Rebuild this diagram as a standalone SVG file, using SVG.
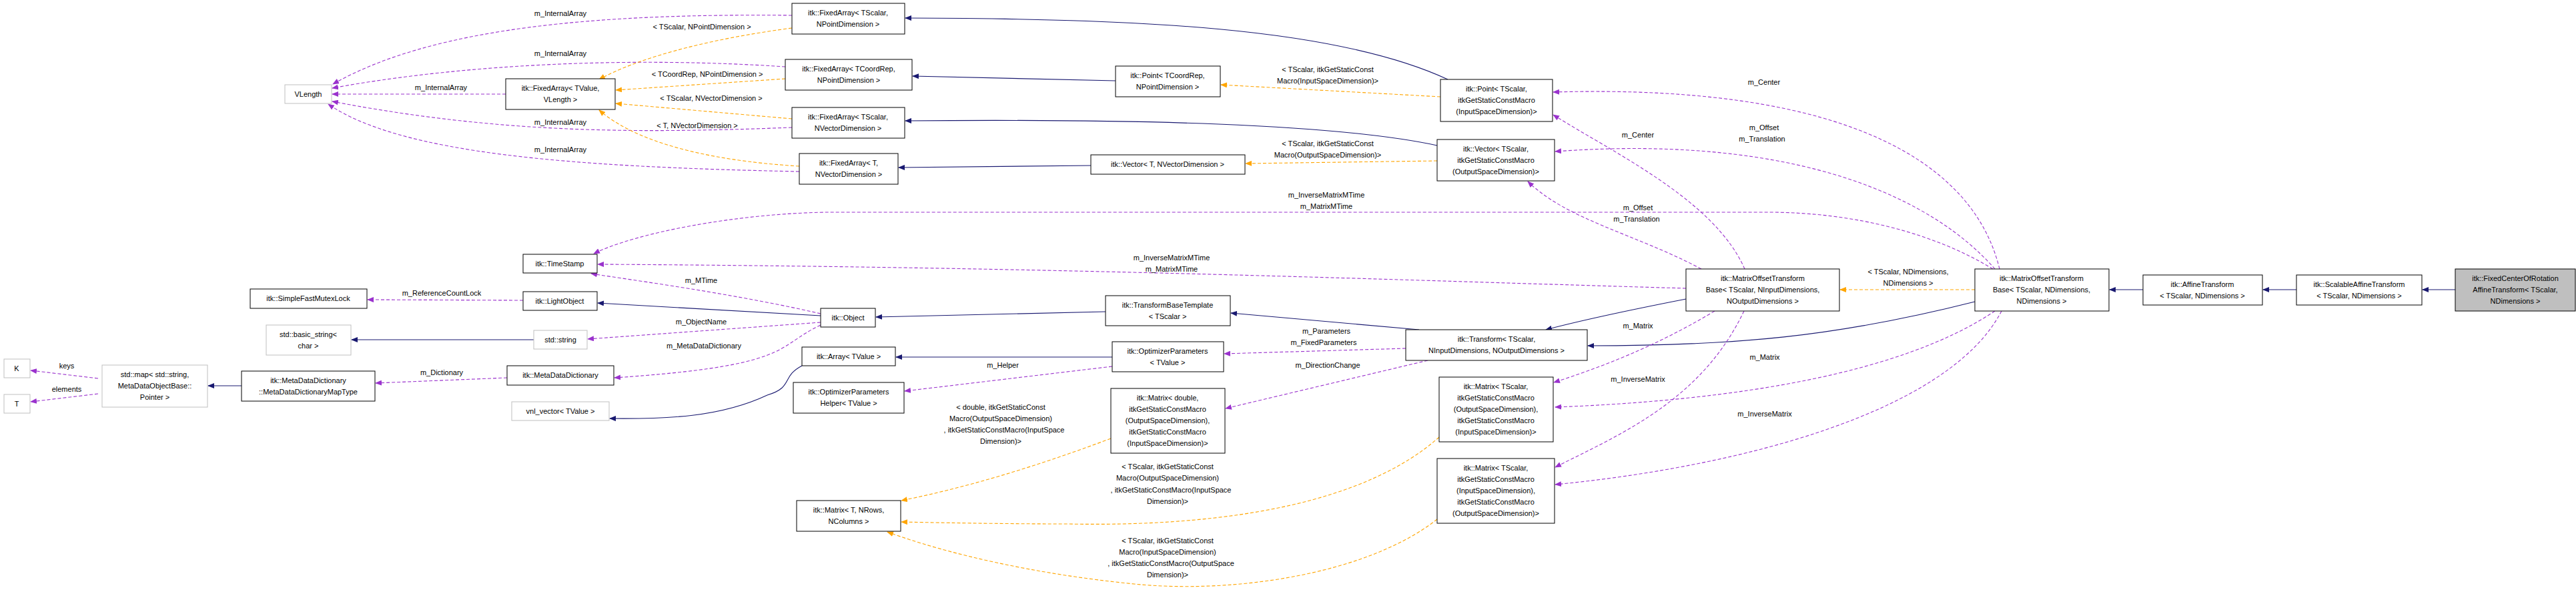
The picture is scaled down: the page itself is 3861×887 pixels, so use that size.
<svg xmlns="http://www.w3.org/2000/svg" width="3861" height="887" viewBox="0 0 3861 887">
<style>
text{font-family:"Liberation Sans",Arial,sans-serif;font-size:11px;fill:#000;text-anchor:middle}
.n rect{fill:#fff;stroke:#000;stroke-width:1}
.g rect{fill:#fff;stroke:#bfbfbf;stroke-width:1}
.c path{fill:none;stroke-width:1.1}
.p{stroke:#9a32cd;stroke-dasharray:5,3}
.o{stroke:#ffa500;stroke-dasharray:5,3}
.b{stroke:#191970}
</style>
<defs>
<marker id="mp" markerWidth="10" markerHeight="8" refX="9" refY="4" orient="auto" markerUnits="userSpaceOnUse"><path d="M0,0L10,4L0,8z" fill="#9a32cd"/></marker>
<marker id="mo" markerWidth="10" markerHeight="8" refX="9" refY="4" orient="auto" markerUnits="userSpaceOnUse"><path d="M0,0L10,4L0,8z" fill="#ffa500"/></marker>
<marker id="mb" markerWidth="10" markerHeight="8" refX="9" refY="4" orient="auto" markerUnits="userSpaceOnUse"><path d="M0,0L10,4L0,8z" fill="#191970"/></marker>
</defs>
<g id="connectors" class="c">
<path class="p" marker-end="url(#mp)" d="M1187,23 C900,20 650,40 499,126"/>
<path class="p" marker-end="url(#mp)" d="M1177,100 C950,85 700,95 498,132"/>
<path class="p" marker-end="url(#mp)" d="M758,141 L498,141"/>
<path class="p" marker-end="url(#mp)" d="M1187,191 C950,200 750,200 498,152"/>
<path class="p" marker-end="url(#mp)" d="M1198,257 C850,250 600,230 492,156"/>
<path class="o" marker-end="url(#mo)" d="M1187,42 C1050,60 950,90 898,119"/>
<path class="o" marker-end="url(#mo)" d="M1177,118 L923,135"/>
<path class="o" marker-end="url(#mo)" d="M1187,178 L923,155"/>
<path class="o" marker-end="url(#mo)" d="M1198,249 C1050,240 950,210 898,165"/>
<path class="b" marker-end="url(#mb)" d="M2170,119 C2000,40 1700,28 1357,27"/>
<path class="b" marker-end="url(#mb)" d="M1672,121 L1368,114"/>
<path class="b" marker-end="url(#mb)" d="M2154,218 C2000,185 1700,178 1357,181"/>
<path class="b" marker-end="url(#mb)" d="M1635,248 L1347,251"/>
<path class="o" marker-end="url(#mo)" d="M2159,145 L1830,127"/>
<path class="o" marker-end="url(#mo)" d="M2154,241 L1867,245"/>
<path class="p" marker-end="url(#mp)" d="M2615,403 C2570,300 2420,230 2328,172"/>
<path class="p" marker-end="url(#mp)" d="M2550,403 C2450,350 2350,330 2290,272"/>
<path class="p" marker-end="url(#mp)" d="M2997,403 C2960,250 2780,125 2328,138"/>
<path class="p" marker-end="url(#mp)" d="M2990,403 C2900,300 2700,200 2331,227"/>
<path class="p" marker-end="url(#mp)" d="M2987,403 C2900,350 2780,318 2650,318 L1240,318 C1100,320 950,350 890,380"/>
<path class="p" marker-end="url(#mp)" d="M2527,432 C2100,420 1600,400 896,396"/>
<path class="p" marker-end="url(#mp)" d="M1230,470 C1100,440 950,420 886,410"/>
<path class="p" marker-end="url(#mp)" d="M784,450 L551,449"/>
<path class="p" marker-end="url(#mp)" d="M1230,483 L881,508"/>
<path class="p" marker-end="url(#mp)" d="M1230,487 C1160,520 1190,548 921,566"/>
<path class="p" marker-end="url(#mp)" d="M760,566 L563,574"/>
<path class="p" marker-end="url(#mp)" d="M147,567 L46,555"/>
<path class="p" marker-end="url(#mp)" d="M147,590 L46,602"/>
<path class="b" marker-end="url(#mb)" d="M362,578 L312,578"/>
<path class="b" marker-end="url(#mb)" d="M800,509 L527,509"/>
<path class="b" marker-end="url(#mb)" d="M1230,473 L896,454"/>
<path class="b" marker-end="url(#mb)" d="M1202,548 C1170,565 1190,580 1150,592 C1080,625 1000,628 914,627"/>
<path class="b" marker-end="url(#mb)" d="M1667,535 L1343,535"/>
<path class="b" marker-end="url(#mb)" d="M1657,467 L1313,475"/>
<path class="b" marker-end="url(#mb)" d="M2127,494 L1845,469"/>
<path class="b" marker-end="url(#mb)" d="M2527,448 C2440,465 2370,480 2317,494"/>
<path class="b" marker-end="url(#mb)" d="M2960,452 C2750,505 2600,518 2380,518"/>
<path class="b" marker-end="url(#mb)" d="M3212,434 L3162,434"/>
<path class="b" marker-end="url(#mb)" d="M3442,434 L3392,434"/>
<path class="b" marker-end="url(#mb)" d="M3680,434 L3631,434"/>
<path class="p" marker-end="url(#mp)" d="M1667,549 L1356,586"/>
<path class="p" marker-end="url(#mp)" d="M2107,522 L1835,530"/>
<path class="p" marker-end="url(#mp)" d="M2140,540 L1837,612"/>
<path class="p" marker-end="url(#mp)" d="M2570,466 C2480,520 2400,550 2329,573"/>
<path class="p" marker-end="url(#mp)" d="M2614,466 C2550,600 2430,650 2331,700"/>
<path class="p" marker-end="url(#mp)" d="M2990,466 C2850,560 2600,600 2331,610"/>
<path class="p" marker-end="url(#mp)" d="M3000,466 C2920,620 2600,700 2331,726"/>
<path class="o" marker-end="url(#mo)" d="M2960,434 L2758,434"/>
<path class="o" marker-end="url(#mo)" d="M1665,657 C1550,700 1450,730 1351,750"/>
<path class="o" marker-end="url(#mo)" d="M2157,655 C2050,750 1850,790 1600,785 C1500,785 1400,783 1351,782"/>
<path class="o" marker-end="url(#mo)" d="M2154,778 C2050,860 1850,890 1700,875 C1550,860 1420,830 1330,797"/>
</g>
<g id="labels">
<text x="840" y="24">m_InternalArray</text>
<text x="1052" y="44">&lt; TScalar, NPointDimension &gt;</text>
<text x="840" y="84">m_InternalArray</text>
<text x="1060" y="115">&lt; TCoordRep, NPointDimension &gt;</text>
<text x="661" y="135">m_InternalArray</text>
<text x="1066" y="151">&lt; TScalar, NVectorDimension &gt;</text>
<text x="840" y="187">m_InternalArray</text>
<text x="1045" y="192">&lt; T, NVectorDimension &gt;</text>
<text x="840" y="228">m_InternalArray</text>
<text x="1990" y="108">&lt; TScalar, itkGetStaticConst</text>
<text x="1990" y="125">Macro(InputSpaceDimension)&gt;</text>
<text x="1990" y="219">&lt; TScalar, itkGetStaticConst</text>
<text x="1990" y="236">Macro(OutputSpaceDimension)&gt;</text>
<text x="2644" y="127">m_Center</text>
<text x="2644" y="195">m_Offset</text>
<text x="2641" y="212">m_Translation</text>
<text x="2455" y="206">m_Center</text>
<text x="2455" y="315">m_Offset</text>
<text x="2453" y="332">m_Translation</text>
<text x="1988" y="296">m_InverseMatrixMTime</text>
<text x="1988" y="313">m_MatrixMTime</text>
<text x="1756" y="390">m_InverseMatrixMTime</text>
<text x="1756" y="407">m_MatrixMTime</text>
<text x="2860" y="411">&lt; TScalar, NDimensions,</text>
<text x="2860" y="428">NDimensions &gt;</text>
<text x="1051" y="424">m_MTime</text>
<text x="662" y="443">m_ReferenceCountLock</text>
<text x="1051" y="486">m_ObjectName</text>
<text x="1055" y="522">m_MetaDataDictionary</text>
<text x="662" y="562">m_Dictionary</text>
<text x="100" y="552">keys</text>
<text x="100" y="587">elements</text>
<text x="1988" y="500">m_Parameters</text>
<text x="1984" y="517">m_FixedParameters</text>
<text x="1990" y="551">m_DirectionChange</text>
<text x="1503" y="551">m_Helper</text>
<text x="2455" y="492">m_Matrix</text>
<text x="2455" y="572">m_InverseMatrix</text>
<text x="2645" y="539">m_Matrix</text>
<text x="2645" y="624">m_InverseMatrix</text>
<text x="1500" y="614">&lt; double, itkGetStaticConst</text>
<text x="1500" y="631">Macro(OutputSpaceDimension)</text>
<text x="1505" y="648">, itkGetStaticConstMacro(InputSpace</text>
<text x="1500" y="665">Dimension)&gt;</text>
<text x="1750" y="703">&lt; TScalar, itkGetStaticConst</text>
<text x="1750" y="720">Macro(OutputSpaceDimension)</text>
<text x="1755" y="738">, itkGetStaticConstMacro(InputSpace</text>
<text x="1750" y="755">Dimension)&gt;</text>
<text x="1750" y="814">&lt; TScalar, itkGetStaticConst</text>
<text x="1750" y="831">Macro(InputSpaceDimension)</text>
<text x="1755" y="848">, itkGetStaticConstMacro(OutputSpace</text>
<text x="1750" y="865">Dimension)&gt;</text>
</g>
<g id="VLength" class="g"><rect x="427" y="127" width="70" height="28"/><text x="462" y="145">VLength</text></g>
<g id="FA_TValue" class="n"><rect x="758" y="118" width="164" height="46"/><text x="840" y="136">itk::FixedArray&lt; TValue,</text><text x="840" y="153">VLength &gt;</text></g>
<g id="TimeStamp" class="n"><rect x="784" y="381" width="111" height="28"/><text x="839" y="399">itk::TimeStamp</text></g>
<g id="SimpleFastMutexLock" class="n"><rect x="375" y="433" width="175" height="29"/><text x="462" y="451">itk::SimpleFastMutexLock</text></g>
<g id="LightObject" class="n"><rect x="784" y="437" width="111" height="28"/><text x="839" y="455">itk::LightObject</text></g>
<g id="basic_string" class="g"><rect x="399" y="487" width="127" height="45"/><text x="462" y="505">std::basic_string&lt;</text><text x="462" y="522">char &gt;</text></g>
<g id="std_string" class="g"><rect x="800" y="495" width="80" height="28"/><text x="840" y="513">std::string</text></g>
<g id="K" class="g"><rect x="6" y="538" width="39" height="28"/><text x="25" y="556">K</text></g>
<g id="T" class="g"><rect x="6" y="591" width="39" height="28"/><text x="25" y="609">T</text></g>
<g id="std_map" class="g"><rect x="153" y="547" width="158" height="63"/><text x="232" y="565">std::map&lt; std::string,</text><text x="232" y="582">MetaDataObjectBase::</text><text x="232" y="599">Pointer &gt;</text></g>
<g id="MapType" class="n"><rect x="362" y="556" width="200" height="45"/><text x="462" y="574">itk::MetaDataDictionary</text><text x="462" y="591">::MetaDataDictionaryMapType</text></g>
<g id="MetaDataDictionary" class="n"><rect x="760" y="548" width="160" height="29"/><text x="840" y="566">itk::MetaDataDictionary</text></g>
<g id="vnl_vector" class="g"><rect x="767" y="602" width="146" height="28"/><text x="840" y="620">vnl_vector&lt; TValue &gt;</text></g>
<g id="FA_TScalar_NPoint" class="n"><rect x="1187" y="5" width="169" height="46"/><text x="1271" y="23">itk::FixedArray&lt; TScalar,</text><text x="1271" y="40">NPointDimension &gt;</text></g>
<g id="FA_TCoordRep" class="n"><rect x="1177" y="89" width="190" height="46"/><text x="1272" y="107">itk::FixedArray&lt; TCoordRep,</text><text x="1272" y="124">NPointDimension &gt;</text></g>
<g id="Point_TCoordRep" class="n"><rect x="1672" y="99" width="157" height="46"/><text x="1750" y="117">itk::Point&lt; TCoordRep,</text><text x="1750" y="134">NPointDimension &gt;</text></g>
<g id="FA_TScalar_NVector" class="n"><rect x="1187" y="161" width="169" height="46"/><text x="1271" y="179">itk::FixedArray&lt; TScalar,</text><text x="1271" y="196">NVectorDimension &gt;</text></g>
<g id="FA_T" class="n"><rect x="1198" y="230" width="148" height="46"/><text x="1272" y="248">itk::FixedArray&lt; T,</text><text x="1272" y="265">NVectorDimension &gt;</text></g>
<g id="Vector_T" class="n"><rect x="1635" y="232" width="231" height="29"/><text x="1750" y="250">itk::Vector&lt; T, NVectorDimension &gt;</text></g>
<g id="TransformBaseTemplate" class="n"><rect x="1657" y="443" width="187" height="45"/><text x="1750" y="461">itk::TransformBaseTemplate</text><text x="1750" y="478">&lt; TScalar &gt;</text></g>
<g id="Object" class="n"><rect x="1230" y="462" width="82" height="28"/><text x="1271" y="480">itk::Object</text></g>
<g id="Array" class="n"><rect x="1202" y="520" width="140" height="28"/><text x="1272" y="538">itk::Array&lt; TValue &gt;</text></g>
<g id="OptimizerParameters" class="n"><rect x="1667" y="512" width="167" height="45"/><text x="1750" y="530">itk::OptimizerParameters</text><text x="1750" y="547">&lt; TValue &gt;</text></g>
<g id="OptimizerParametersHelper" class="n"><rect x="1189" y="573" width="166" height="46"/><text x="1272" y="591">itk::OptimizerParameters</text><text x="1272" y="608">Helper&lt; TValue &gt;</text></g>
<g id="Matrix_double" class="n"><rect x="1665" y="582" width="171" height="97"/><text x="1750" y="600">itk::Matrix&lt; double,</text><text x="1750" y="617">itkGetStaticConstMacro</text><text x="1750" y="634">(OutputSpaceDimension),</text><text x="1750" y="651">itkGetStaticConstMacro</text><text x="1750" y="668">(InputSpaceDimension)&gt;</text></g>
<g id="Matrix_T" class="n"><rect x="1194" y="750" width="156" height="46"/><text x="1272" y="768">itk::Matrix&lt; T, NRows,</text><text x="1272" y="785">NColumns &gt;</text></g>
<g id="Point_TScalar" class="n"><rect x="2159" y="119" width="168" height="63"/><text x="2243" y="137">itk::Point&lt; TScalar,</text><text x="2243" y="154">itkGetStaticConstMacro</text><text x="2243" y="171">(InputSpaceDimension)&gt;</text></g>
<g id="Vector_TScalar" class="n"><rect x="2154" y="209" width="176" height="62"/><text x="2242" y="227">itk::Vector&lt; TScalar,</text><text x="2242" y="244">itkGetStaticConstMacro</text><text x="2242" y="261">(OutputSpaceDimension)&gt;</text></g>
<g id="Transform" class="n"><rect x="2107" y="494" width="272" height="46"/><text x="2243" y="512">itk::Transform&lt; TScalar,</text><text x="2243" y="529">NInputDimensions, NOutputDimensions &gt;</text></g>
<g id="Matrix_OutIn" class="n"><rect x="2157" y="565" width="171" height="97"/><text x="2242" y="583">itk::Matrix&lt; TScalar,</text><text x="2242" y="600">itkGetStaticConstMacro</text><text x="2242" y="617">(OutputSpaceDimension),</text><text x="2242" y="634">itkGetStaticConstMacro</text><text x="2242" y="651">(InputSpaceDimension)&gt;</text></g>
<g id="Matrix_InOut" class="n"><rect x="2154" y="687" width="176" height="97"/><text x="2242" y="705">itk::Matrix&lt; TScalar,</text><text x="2242" y="722">itkGetStaticConstMacro</text><text x="2242" y="739">(InputSpaceDimension),</text><text x="2242" y="756">itkGetStaticConstMacro</text><text x="2242" y="773">(OutputSpaceDimension)&gt;</text></g>
<g id="MOTB_NINO" class="n"><rect x="2527" y="403" width="230" height="63"/><text x="2642" y="421">itk::MatrixOffsetTransform</text><text x="2642" y="438">Base&lt; TScalar, NInputDimensions,</text><text x="2642" y="455">NOutputDimensions &gt;</text></g>
<g id="MOTB_ND" class="n"><rect x="2960" y="403" width="201" height="63"/><text x="3060" y="421">itk::MatrixOffsetTransform</text><text x="3060" y="438">Base&lt; TScalar, NDimensions,</text><text x="3060" y="455">NDimensions &gt;</text></g>
<g id="AffineTransform" class="n"><rect x="3212" y="412" width="179" height="45"/><text x="3301" y="430">itk::AffineTransform</text><text x="3301" y="447">&lt; TScalar, NDimensions &gt;</text></g>
<g id="ScalableAffineTransform" class="n"><rect x="3442" y="412" width="188" height="45"/><text x="3536" y="430">itk::ScalableAffineTransform</text><text x="3536" y="447">&lt; TScalar, NDimensions &gt;</text></g>
<g id="FixedCenterOfRotationAffineTransform"><rect x="3680" y="403" width="180" height="63" fill="#bfbfbf" stroke="#000"/><text x="3770" y="421">itk::FixedCenterOfRotation</text><text x="3770" y="438">AffineTransform&lt; TScalar,</text><text x="3770" y="455">NDimensions &gt;</text></g>
</svg>
